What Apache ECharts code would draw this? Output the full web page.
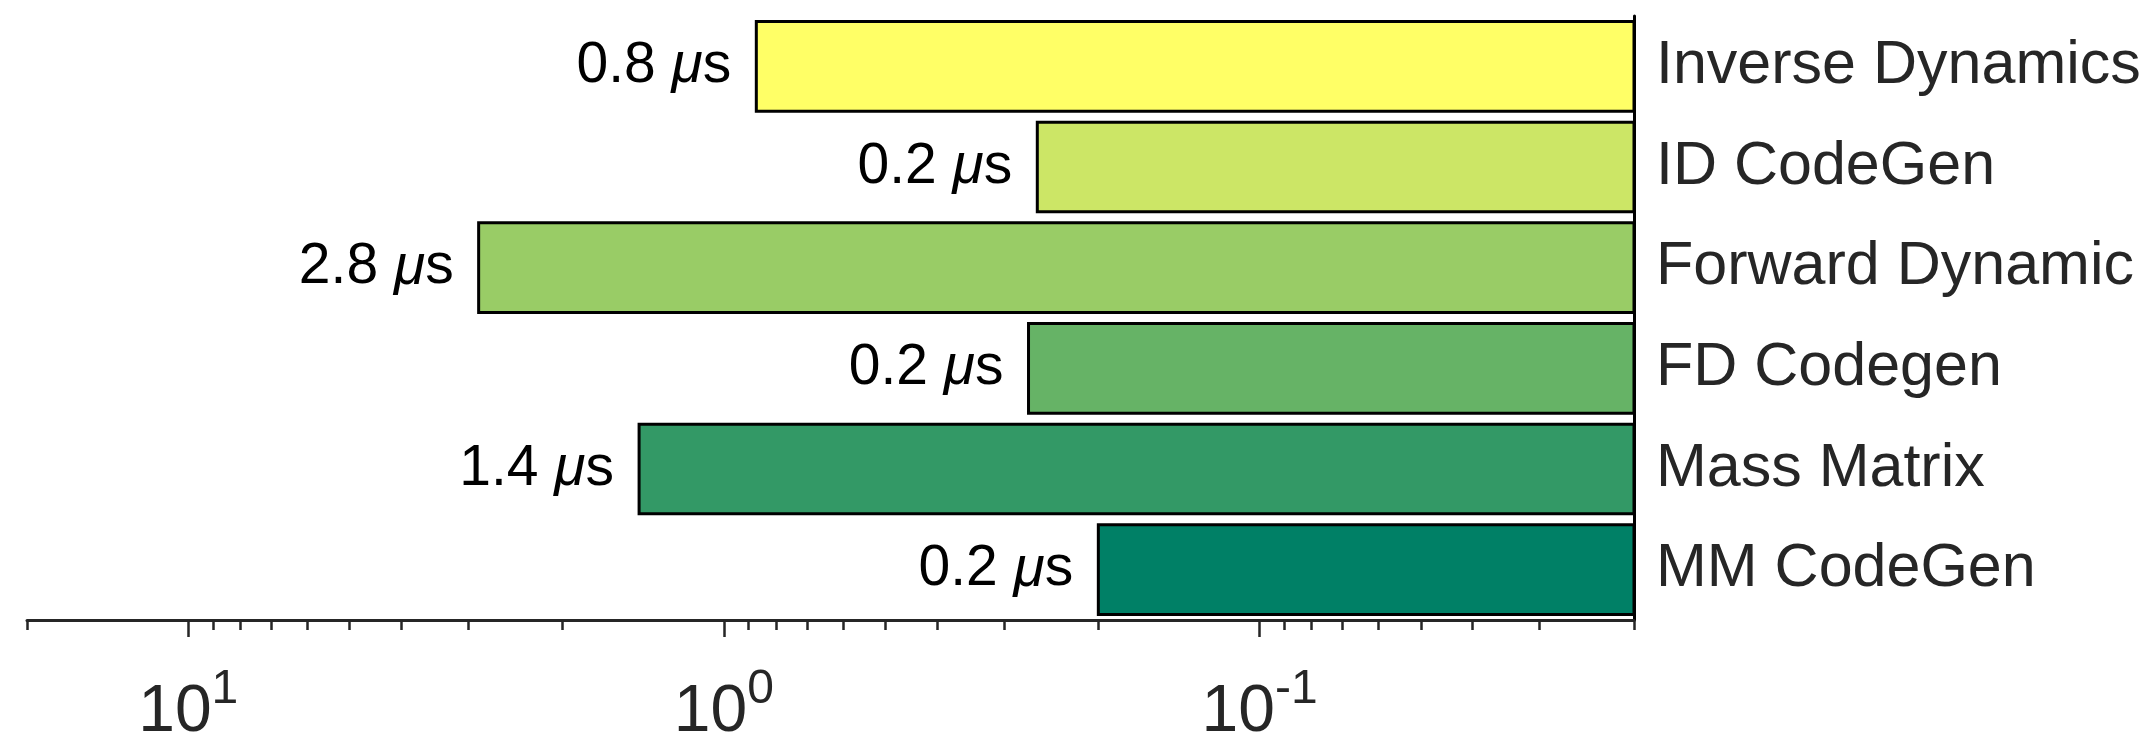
<!DOCTYPE html>
<html>
<head>
<meta charset="utf-8">
<script src="https://cdn.jsdelivr.net/npm/echarts@6/dist/echarts.min.js"></script>
<style>
html,body{margin:0;padding:0;background:#fff;}
#chart{width:2146px;height:738px;}
</style>
</head>
<body>
<div id="chart"></div>
<script>
// ---- data ----
const categories = ['Inverse Dynamics', 'ID CodeGen', 'Forward Dynamic', 'FD Codegen', 'Mass Matrix', 'MM CodeGen'];
const timesUs = [0.87, 0.26, 2.87, 0.27, 1.44, 0.20];
const valueLabels = ['0.8', '0.2', '2.8', '0.2', '1.4', '0.2'];
const barColors = ['#FFFF66', '#CCE666', '#99CC66', '#66B366', '#339966', '#008066'];
const xMin = 0.02, xMax = 20;
const majorTickValues = [10, 1, 0.1];
const majorTickExponents = ['1', '0', '-1'];
const minorTickValues = [20, 9, 8, 7, 6, 5, 4, 3, 2, 0.9, 0.8, 0.7, 0.6, 0.5, 0.4, 0.3, 0.2,
  0.09, 0.08, 0.07, 0.06, 0.05, 0.04, 0.03, 0.02];

const FONT = '"Liberation Sans", Arial, Helvetica, sans-serif';
const AXIS_COLOR = '#262626';

const chart = echarts.init(document.getElementById('chart'), null, {renderer: 'canvas'});

const seriesData = timesUs.map((v, i) => [v, i]);

const option = {
  backgroundColor: '#ffffff',
  animation: false,
  grid: {left: 27, right: 512, top: 16, bottom: 118, containLabel: false, outerBoundsMode: 'none'},
  xAxis: [
    {
      type: 'log', logBase: 10, min: xMin, max: xMax, inverse: true, position: 'bottom',
      axisLine: {show: true, onZero: false, lineStyle: {color: AXIS_COLOR, width: 3}},
      axisTick: {show: true, inside: false, length: 17, lineStyle: {color: AXIS_COLOR, width: 2.5},
        customValues: majorTickValues},
      axisLabel: {
        show: true, margin: 46, customValues: majorTickValues,
        formatter: function (val) {
          let k = majorTickValues.findIndex(t => Math.abs(Math.log10(t) - Math.log10(val)) < 1e-6);
          const e = k >= 0 ? majorTickExponents[k] : String(Math.round(Math.log10(val)));
          return '{b|10}{s|' + e + '}';
        },
        rich: {
          b: {fontFamily: FONT, fontSize: 66, color: AXIS_COLOR, lineHeight: 80, verticalAlign: 'bottom'},
          s: {fontFamily: FONT, fontSize: 48, color: AXIS_COLOR, lineHeight: 18, verticalAlign: 'top'}
        }
      },
      splitLine: {show: false}, minorTick: {show: false}, minorSplitLine: {show: false}
    },
    {
      type: 'log', logBase: 10, min: xMin, max: xMax, inverse: true, position: 'bottom', offset: 0,
      axisLine: {show: false},
      axisTick: {show: true, inside: false, length: 10, lineStyle: {color: AXIS_COLOR, width: 2.5},
        customValues: minorTickValues},
      axisLabel: {show: false},
      splitLine: {show: false}
    }
  ],
  yAxis: {
    type: 'category', data: categories, inverse: true, position: 'right',
    axisLine: {show: true, lineStyle: {color: '#000', width: 3}},
    axisTick: {show: false},
    axisLabel: {show: true, margin: 22, fontFamily: FONT, fontSize: 61, color: AXIS_COLOR},
    splitLine: {show: false}
  },
  series: [{
    type: 'custom',
    xAxisIndex: 0,
    encode: {x: 0, y: 1},
    data: seriesData,
    clip: false,
    renderItem: function (params, api) {
      const v = api.value(0);
      const idx = api.value(1);
      const end = api.coord([v, idx]);
      const start = api.coord([xMin, idx]);
      const band = Math.abs(api.coord([v, 1])[1] - api.coord([v, 0])[1]);
      const h = band * 0.89;
      const x0 = Math.min(start[0], end[0]);
      const w = Math.abs(start[0] - end[0]);
      return {
        type: 'group',
        children: [
          {
            type: 'rect',
            shape: {x: x0, y: end[1] - h / 2, width: w, height: h},
            style: {fill: barColors[idx], stroke: '#000', lineWidth: 3}
          },
          {
            type: 'text',
            x: x0 - 25, y: end[1],
            style: {
              text: '{n|' + valueLabels[idx] + ' }{i|\u03bc}{n|s}',
              align: 'right', verticalAlign: 'middle',
              rich: {
                n: {fontFamily: FONT, fontSize: 57, fill: '#000'},
                i: {fontFamily: FONT, fontSize: 57, fontStyle: 'italic', fill: '#000'}
              }
            }
          }
        ]
      };
    }
  }]
};

chart.setOption(option);
</script>
</body>
</html>
